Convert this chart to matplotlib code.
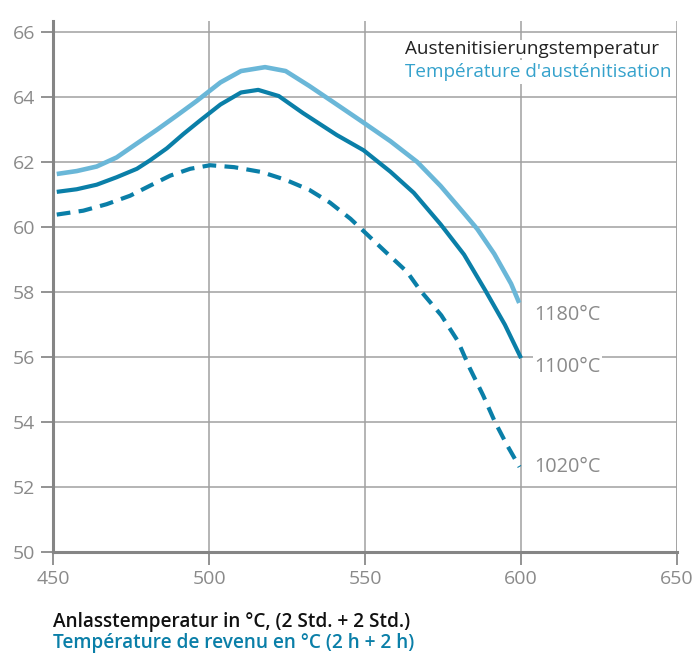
import numpy as np
import matplotlib.pyplot as plt

plt.rcParams['font.family'] = ['Open Sans', 'DejaVu Sans']

# Data (tempering temp in degC, hardness HRC)
x_1180 = [451.1, 457.5, 463.9, 470.3, 476.8, 483.2, 489.6, 496.0, 503.6, 510.2,
          517.9, 524.5, 532.1, 540.9, 549.5, 558.1, 566.7, 574.2, 581.7, 586.0,
          591.4, 596.8, 599.4]
y_1180 = [61.63, 61.72, 61.86, 62.14, 62.57, 62.99, 63.43, 63.88, 64.45, 64.80,
          64.92, 64.80, 64.34, 63.77, 63.21, 62.64, 62.00, 61.26, 60.42, 59.93,
          59.17, 58.25, 57.66]

x_1100 = [451.1, 457.5, 463.9, 470.3, 476.8, 481.0, 486.4, 491.7, 497.1, 503.6,
          510.2, 515.7, 522.3, 530.0, 540.9, 549.5, 558.1, 565.6, 574.2, 581.7,
          588.5, 594.8, 600.0]
y_1100 = [61.08, 61.16, 61.30, 61.53, 61.79, 62.05, 62.42, 62.86, 63.28, 63.77,
          64.14, 64.22, 64.03, 63.51, 62.83, 62.36, 61.70, 61.05, 60.08, 59.15,
          58.05, 56.99, 55.96]

x_1020 = [451.1, 459.6, 467.1, 474.6, 481.0, 487.5, 493.9, 500.3, 508.0, 516.8,
          524.5, 532.1, 538.7, 545.3, 550.5, 556.9, 563.4, 567.8, 574.4, 579.7,
          583.5, 587.8, 591.6, 595.4, 599.5]
y_1020 = [60.38, 60.50, 60.70, 60.96, 61.27, 61.58, 61.79, 61.90, 61.84, 61.69,
          61.45, 61.14, 60.75, 60.25, 59.78, 59.20, 58.62, 58.03, 57.28, 56.49,
          55.66, 54.82, 54.00, 53.30, 52.61]

labels = ['1180°C', '1100°C', '1020°C']
label_y = [57.29, 55.68, 52.6]

light = '#6ab7d8'
dark = '#0a7fa8'
grey = '#8a8a8a'
gridc = '#a0a0a0'

fig = plt.figure(figsize=(6.97, 6.55), dpi=100)
ax = fig.add_axes([0.0765, 0.1577, 0.8948, 0.8107])

ax.plot(x_1180, y_1180, color=light, lw=3.3, solid_capstyle='butt', solid_joinstyle='round', zorder=3)
ax.plot(x_1100, y_1100, color=dark, lw=3.0, solid_capstyle='butt', solid_joinstyle='round', zorder=3)
ax.plot(x_1020, y_1020, color=dark, lw=3.0, dashes=(3.3, 2.0), zorder=3)

ax.set_xlim(450, 650)
ax.set_ylim(50, 66.35)
ax.set_xticks([450, 500, 550, 600, 650])
ax.set_yticks(np.arange(50, 67, 2))
ax.grid(True, color=gridc, lw=1.1, zorder=1)
ax.set_axisbelow(True)

for s in ['top', 'right']:
    ax.spines[s].set_visible(False)
ax.axvline(650, ymax=16 / 16.35, color=gridc, lw=1.1, zorder=1)
for s in ['left', 'bottom']:
    ax.spines[s].set_color('#858585')
    ax.spines[s].set_linewidth(2.2)
ax.tick_params(direction='out', length=9, width=1.3, color='#8a8a8a',
               labelcolor=grey, labelsize=14, pad=4)

for lab, ly in zip(labels, label_y):
    ax.text(604.3, ly, lab, color=grey, fontsize=14.3, va='center', ha='left',
            zorder=4, bbox=dict(facecolor='white', edgecolor='none', pad=1))

# caption in the upper right, white background hides the grid behind it
ax.text(562.8, 65.33, 'Austenitisierungstemperatur', color='#222222', fontsize=13.6,
        va='baseline', ha='left', zorder=5,
        bbox=dict(facecolor='white', edgecolor='none', pad=0))
ax.text(562.8, 64.61, "Température d'austénitisation", color='#35a2cc', fontsize=13.6,
        va='baseline', ha='left', zorder=5,
        bbox=dict(facecolor='white', edgecolor='none', pad=2))

fig.text(0.0765, 0.0432, 'Anlasstemperatur in °C, (2 Std. + 2 Std.)', color='#111111',
         fontsize=13.7, fontweight='semibold', ha='left', va='baseline')
fig.text(0.0765, 0.0107, 'Température de revenu en °C (2 h + 2 h)', color='#0a7fa8',
         fontsize=13.7, fontweight='semibold', ha='left', va='baseline')

fig.savefig('out.png', dpi=100)
